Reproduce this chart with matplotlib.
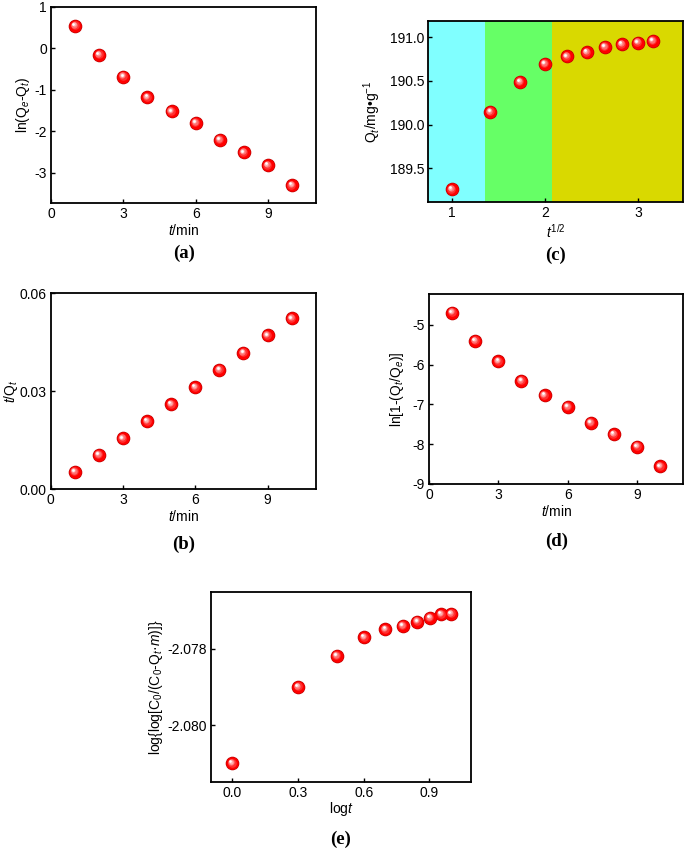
import numpy as np
import matplotlib
matplotlib.use('Agg')
import matplotlib.pyplot as plt
from matplotlib.transforms import offset_copy

# kinetic data
t = [1, 2, 3, 4, 5, 6, 7, 8, 9, 10]
ln_qe_qt = [0.55, -0.15, -0.68, -1.18, -1.52, -1.80, -2.21, -2.51, -2.82, -3.30]
t_over_qt = [0.0053, 0.0105, 0.0156, 0.0209, 0.0261, 0.0313, 0.0366, 0.0418, 0.0471, 0.0523]
sqrt_t = [1.0, 1.414, 1.732, 2.0, 2.236, 2.449, 2.646, 2.828, 3.0, 3.162]
qt = [189.26, 190.145, 190.49, 190.695, 190.78, 190.83, 190.89, 190.92, 190.94, 190.96]
ln_1_qtqe = [-4.69, -5.40, -5.91, -6.41, -6.77, -7.06, -7.46, -7.75, -8.06, -8.56]
log_t = [0.0, 0.301, 0.477, 0.602, 0.699, 0.778, 0.845, 0.903, 0.954, 1.0]
loglog = [-2.08099, -2.07899, -2.07819, -2.07770, -2.07749, -2.07740, -2.07729, -2.07719, -2.07710, -2.07709]

# shaded regions in panel (c)
regions = [(0.745, 1.35, '#80ffff'), (1.35, 2.075, '#66ff66'), (2.075, 3.5, '#d9d900')]

plt.rcParams['font.family'] = ['Liberation Sans', 'DejaVu Sans']
plt.rcParams['font.size'] = 10
plt.rcParams['axes.unicode_minus'] = False
plt.rcParams['mathtext.fontset'] = 'custom'
plt.rcParams['mathtext.it'] = 'Liberation Sans:italic'
plt.rcParams['mathtext.rm'] = 'Liberation Sans'

fig = plt.figure(figsize=(6.85, 8.51), dpi=100)


def spheres(ax, x, y):
    # fake glossy sphere: dark rim, red body, lighter spot offset up-left
    ax.plot(x, y, 'o', ms=9.8, color='#c00000', mec='none', zorder=3)
    ax.plot(x, y, 'o', ms=8.8, color='#ff0000', mec='none', zorder=4)
    steps = [(6.2, '#ff3030', 0.4), (4.6, '#ff7070', 0.8), (3.1, '#ffb0b0', 1.1), (1.9, '#ffffff', 1.3)]
    for ms, c, off in steps:
        tr = offset_copy(ax.transData, fig=fig, x=-off, y=off, units='points')
        ax.plot(x, y, 'o', ms=ms, color=c, mec='none', transform=tr, zorder=5)


def style(ax):
    for s in ax.spines.values():
        s.set_linewidth(1.3)
    ax.tick_params(direction='in', length=3, width=1, labelsize=10, pad=3)


def panel_label(ax, text, y):
    ax.text(0.5, y, text, transform=ax.transAxes, ha='center', va='center',
            fontsize=13.5, fontweight='bold', family='Liberation Serif')


# (a)
ax = fig.add_axes([0.0745, 0.7615, 0.387, 0.2303])
spheres(ax, t, ln_qe_qt)
ax.set_xlim(0, 11)
ax.set_ylim(-3.73, 1)
ax.set_xticks([0, 3, 6, 9])
ax.set_yticks([-3, -2, -1, 0, 1])
ax.set_xlabel('$t$/min', labelpad=1)
ax.set_ylabel('ln(Q$_e$-Q$_t$)', labelpad=2)
style(ax)
panel_label(ax, '(a)', -0.255)

# (c)
ax = fig.add_axes([0.6253, 0.7623, 0.3723, 0.2134])
for x0, x1, c in regions:
    ax.axvspan(x0, x1, color=c, lw=0, zorder=0)
spheres(ax, sqrt_t, qt)
ax.set_xlim(0.745, 3.49)
ax.set_ylim(189.11, 191.19)
ax.set_xticks([1, 2, 3])
ax.set_yticks([189.5, 190.0, 190.5, 191.0])
ax.set_yticklabels(['189.5', '190.0', '190.5', '191.0'])
ax.set_xlabel('$t^{1/2}$', labelpad=2)
ax.set_ylabel('Q$_t$/mg\u2022g$^{-1}$', labelpad=5)
style(ax)
panel_label(ax, '(c)', -0.29)

# (b)
ax = fig.add_axes([0.074, 0.425, 0.387, 0.2303])
spheres(ax, t, t_over_qt)
ax.set_xlim(0, 11)
ax.set_ylim(0, 0.06)
ax.set_xticks([0, 3, 6, 9])
ax.set_yticks([0.0, 0.03, 0.06])
ax.set_yticklabels(['0.00', '0.03', '0.06'])
ax.set_xlabel('$t$/min', labelpad=1)
ax.set_ylabel('$t$/Q$_t$', labelpad=0)
style(ax)
panel_label(ax, '(b)', -0.28)

# (d)
ax = fig.add_axes([0.6263, 0.4313, 0.3712, 0.2229])
spheres(ax, t, ln_1_qtqe)
ax.set_xlim(0, 11)
ax.set_ylim(-9, -4.23)
ax.set_xticks([0, 3, 6, 9])
ax.set_yticks([-9, -8, -7, -6, -5])
ax.set_xlabel('$t$/min', labelpad=1)
ax.set_ylabel('ln[1-(Q$_t$/Q$_e$)]', labelpad=5)
style(ax)
panel_label(ax, '(d)', -0.3)

# (e)
ax = fig.add_axes([0.308, 0.0807, 0.3796, 0.224])
spheres(ax, log_t, loglog)
ax.set_xlim(-0.097, 1.09)
ax.set_ylim(-2.08149, -2.07651)
ax.set_xticks([0.0, 0.3, 0.6, 0.9])
ax.set_xticklabels(['0.0', '0.3', '0.6', '0.9'])
ax.set_yticks([-2.080, -2.078])
ax.set_yticklabels(['-2.080', '-2.078'])
ax.set_xlabel('log$t$', labelpad=0)
ax.set_ylabel('log{log[C$_0$/(C$_0$-Q$_t$\u00b7$m$)]}', labelpad=2)
style(ax)
panel_label(ax, '(e)', -0.3)

fig.savefig('out.png', dpi=100)
